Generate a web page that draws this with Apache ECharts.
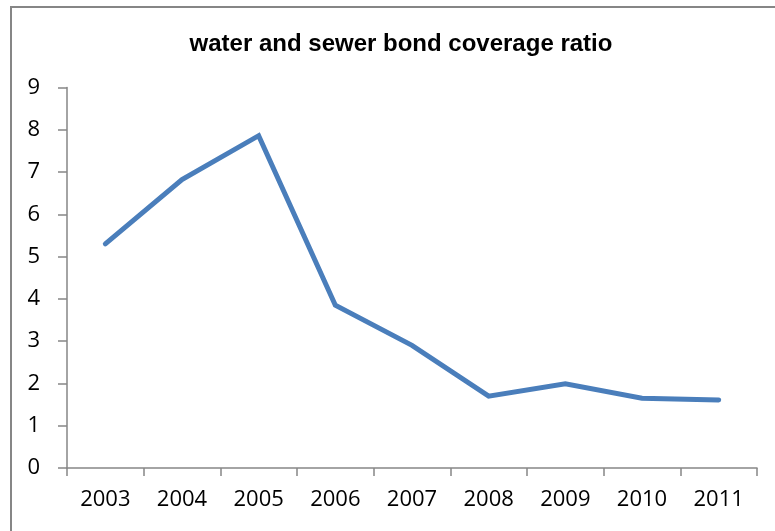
<!DOCTYPE html>
<html>
<head>
<meta charset="utf-8">
<script src="https://cdn.jsdelivr.net/npm/echarts@6/dist/echarts.min.js"></script>
<style>
  html, body { margin: 0; padding: 0; background: #ffffff; }
  #chart { width: 775px; height: 531px; }
</style>
</head>
<body>
<div id="chart"></div>
<script>
// Fiscal years on the horizontal axis
const years = ['2003', '2004', '2005', '2006', '2007', '2008', '2009', '2010', '2011'];
// Bond coverage ratio per year
const coverageRatio = [5.30, 6.82, 7.86, 3.85, 2.90, 1.70, 1.99, 1.65, 1.61];
// Value axis range
const yMin = 0;
const yMax = 9;
const yStep = 1;

const axisGray = '#868686';
const labelFont = '"Open Sans", Lato, "DejaVu Sans", sans-serif';

const chart = echarts.init(document.getElementById('chart'), null, { renderer: 'canvas' });

chart.setOption({
  animation: false,
  backgroundColor: '#ffffff',
  title: {
    text: 'water and sewer bond coverage ratio',
    left: 396,
    top: 27,
    textAlign: 'center',
    textStyle: {
      fontFamily: '"Liberation Sans", Arial, sans-serif',
      fontWeight: 'bold',
      fontSize: 24,
      color: '#000000'
    }
  },
  graphic: [{
    type: 'rect',
    shape: { x: 11, y: 7, width: 820, height: 600 },
    style: { fill: 'none', stroke: axisGray, lineWidth: 2 },
    silent: true
  }],
  grid: { left: 67, right: 18, top: 87.5, bottom: 63, containLabel: false },
  xAxis: {
    type: 'category',
    data: years,
    boundaryGap: true,
    axisLine: { lineStyle: { color: axisGray, width: 1.5 } },
    axisTick: { show: true, inside: false, length: 8, alignWithLabel: false,
                lineStyle: { color: axisGray, width: 1.5 } },
    axisLabel: { color: '#000000', fontSize: 22, fontFamily: labelFont, margin: 21 },
    splitLine: { show: false }
  },
  yAxis: {
    type: 'value',
    min: yMin,
    max: yMax,
    interval: yStep,
    axisLine: { show: true, lineStyle: { color: axisGray, width: 1.5 } },
    axisTick: { show: true, inside: false, length: 9,
                lineStyle: { color: axisGray, width: 1.5 } },
    axisLabel: { color: '#000000', fontSize: 22, fontFamily: labelFont, margin: 27 },
    splitLine: { show: false }
  },
  series: [{
    type: 'line',
    data: coverageRatio,
    showSymbol: false,
    symbol: 'none',
    smooth: false,
    lineStyle: { color: '#4a7ebb', width: 5, cap: 'round', join: 'miter' },
    itemStyle: { color: '#4a7ebb' }
  }]
});
</script>
</body>
</html>
